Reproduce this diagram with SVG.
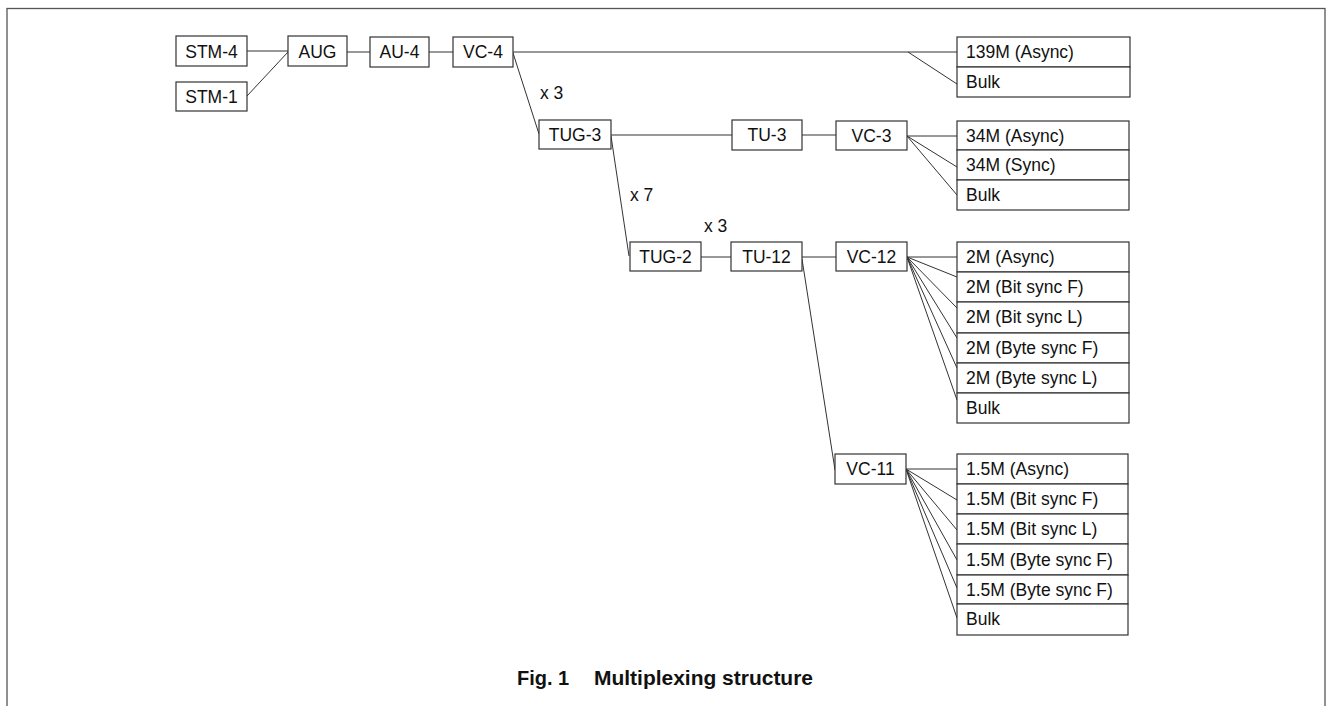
<svg xmlns="http://www.w3.org/2000/svg" width="1335" height="706" viewBox="0 0 1335 706">
<style>
.b{fill:#fff;stroke:#333;stroke-width:1.2}
.t{font-family:"Liberation Sans",Arial,sans-serif;font-size:17.5px;fill:#111}
.c{text-anchor:middle}
.l{fill:none;stroke:#333;stroke-width:1}
.cap{font-family:"Liberation Sans",Arial,sans-serif;font-size:20px;font-weight:bold;fill:#111}
</style>
<rect x="0" y="0" width="1335" height="706" fill="#fff"/>
<rect x="7" y="8.5" width="1318" height="720" fill="none" stroke="#555" stroke-width="1.3"/>
<g id="connectors" class="l">
<line x1="247" y1="51" x2="288" y2="51"/>
<line x1="247" y1="96" x2="288" y2="52"/>
<line x1="347" y1="52" x2="370" y2="52"/>
<line x1="429" y1="52" x2="453" y2="52"/>
<line x1="513" y1="52" x2="957" y2="52"/>
<line x1="908" y1="52" x2="957" y2="84"/>
<line x1="513" y1="53" x2="539" y2="134"/>
<line x1="611" y1="135" x2="732" y2="135"/>
<line x1="802" y1="135" x2="836" y2="135"/>
<line x1="907" y1="136" x2="957" y2="136"/>
<line x1="907" y1="136" x2="957" y2="167"/>
<line x1="907" y1="136" x2="957" y2="195"/>
<line x1="611" y1="136" x2="629" y2="256"/>
<line x1="701" y1="257" x2="731" y2="257"/>
<line x1="802" y1="257" x2="836" y2="257"/>
<line x1="907" y1="257" x2="957" y2="257"/>
<line x1="907" y1="257" x2="957" y2="277"/>
<line x1="907" y1="257" x2="957" y2="308"/>
<line x1="907" y1="257" x2="957" y2="338"/>
<line x1="907" y1="257" x2="957" y2="368"/>
<line x1="907" y1="257" x2="957" y2="400"/>
<line x1="802" y1="259" x2="835" y2="470"/>
<line x1="906" y1="469" x2="957" y2="469"/>
<line x1="906" y1="469" x2="957" y2="500"/>
<line x1="906" y1="469" x2="957" y2="530"/>
<line x1="906" y1="469" x2="957" y2="560"/>
<line x1="906" y1="469" x2="957" y2="588"/>
<line x1="906" y1="469" x2="957" y2="618"/>
</g>
<g id="stm4"><rect class="b" x="176" y="36" width="71" height="30"/><text class="t c" x="211.5" y="57.5">STM-4</text></g>
<g id="stm1"><rect class="b" x="176" y="82" width="71" height="29"/><text class="t c" x="211.5" y="103">STM-1</text></g>
<g id="aug"><rect class="b" x="288" y="36" width="59" height="30"/><text class="t c" x="317.5" y="57.5">AUG</text></g>
<g id="au4"><rect class="b" x="370" y="37" width="59" height="30"/><text class="t c" x="399.5" y="58">AU-4</text></g>
<g id="vc4"><rect class="b" x="453" y="37" width="60" height="30"/><text class="t c" x="483" y="58">VC-4</text></g>
<g id="tug3"><rect class="b" x="539" y="120" width="72" height="29"/><text class="t c" x="575" y="141">TUG-3</text></g>
<g id="tu3"><rect class="b" x="732" y="120" width="70" height="30"/><text class="t c" x="767" y="141">TU-3</text></g>
<g id="vc3"><rect class="b" x="836" y="121" width="71" height="29"/><text class="t c" x="871.5" y="142">VC-3</text></g>
<g id="tug2"><rect class="b" x="630" y="242" width="71" height="29"/><text class="t c" x="665.5" y="263">TUG-2</text></g>
<g id="tu12"><rect class="b" x="731" y="242" width="71" height="29"/><text class="t c" x="766.5" y="263">TU-12</text></g>
<g id="vc12"><rect class="b" x="836" y="242" width="71" height="29"/><text class="t c" x="871.5" y="263">VC-12</text></g>
<g id="vc11"><rect class="b" x="835" y="454" width="71" height="30"/><text class="t c" x="870.5" y="475">VC-11</text></g>
<g id="labels">
<text class="t" x="540" y="99">x 3</text>
<text class="t" x="630" y="201">x 7</text>
<text class="t" x="704" y="232">x 3</text>
</g>
<g id="g139">
<rect class="b" x="957" y="37" width="173" height="30"/><text class="t" x="966" y="58">139M (Async)</text>
<rect class="b" x="957" y="67" width="173" height="30"/><text class="t" x="966" y="88">Bulk</text>
</g>
<g id="g34">
<rect class="b" x="957" y="121" width="172" height="29"/><text class="t" x="966" y="142">34M (Async)</text>
<rect class="b" x="957" y="150" width="172" height="30"/><text class="t" x="966" y="171">34M (Sync)</text>
<rect class="b" x="957" y="180" width="172" height="30"/><text class="t" x="966" y="201">Bulk</text>
</g>
<g id="g2m">
<rect class="b" x="957" y="242" width="172" height="30"/><text class="t" x="966" y="263">2M (Async)</text>
<rect class="b" x="957" y="272" width="172" height="30"/><text class="t" x="966" y="293">2M (Bit sync F)</text>
<rect class="b" x="957" y="302" width="172" height="31"/><text class="t" x="966" y="323">2M (Bit sync L)</text>
<rect class="b" x="957" y="333" width="172" height="30"/><text class="t" x="966" y="354">2M (Byte sync F)</text>
<rect class="b" x="957" y="363" width="172" height="30"/><text class="t" x="966" y="384">2M (Byte sync L)</text>
<rect class="b" x="957" y="393" width="172" height="30"/><text class="t" x="966" y="414">Bulk</text>
</g>
<g id="g15m">
<rect class="b" x="957" y="454" width="171" height="30"/><text class="t" x="966" y="475">1.5M (Async)</text>
<rect class="b" x="957" y="484" width="171" height="30"/><text class="t" x="966" y="505">1.5M (Bit sync F)</text>
<rect class="b" x="957" y="514" width="171" height="30"/><text class="t" x="966" y="535">1.5M (Bit sync L)</text>
<rect class="b" x="957" y="544" width="171" height="31"/><text class="t" x="966" y="566">1.5M (Byte sync F)</text>
<rect class="b" x="957" y="575" width="171" height="29"/><text class="t" x="966" y="596">1.5M (Byte sync F)</text>
<rect class="b" x="957" y="604" width="171" height="31"/><text class="t" x="966" y="625">Bulk</text>
</g>
<g id="caption">
<text class="cap" x="517" y="685">Fig. 1</text>
<text class="cap" x="594" y="685" textLength="219" lengthAdjust="spacingAndGlyphs">Multiplexing structure</text>
</g>
</svg>
